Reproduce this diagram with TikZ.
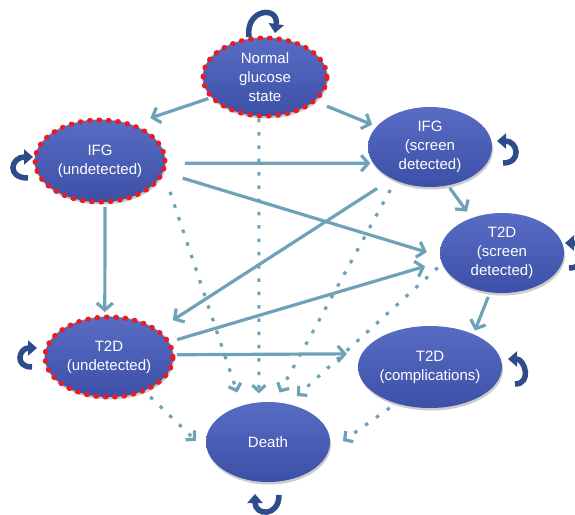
\documentclass[tikz,border=0pt]{standalone}
\usepackage{fontspec}
\newfontfamily\statefont{Liberation Sans}
\usetikzlibrary{arrows.meta,shapes,shadows}
\definecolor{statetop}{RGB}{88,108,196}
\definecolor{statebottom}{RGB}{60,80,168}
\definecolor{colorflow}{RGB}{110,162,182}
\definecolor{colorloop}{RGB}{46,76,140}
\definecolor{colorhidden}{RGB}{232,28,36}
\tikzstyle{state}=[ellipse, inner sep=0pt, outer sep=0pt, top color=statetop, bottom color=statebottom, drop shadow={shadow xshift=1pt, shadow yshift=-2.5pt, fill=black!40}, text=white, align=center, font=\statefont\fontsize{15}{19}\selectfont]
\tikzstyle{hidden}=[preaction={draw=gray!55, solid, line cap=butt, line width=1.6pt}, draw=colorhidden, line width=5pt, dash pattern=on 0.8pt off 8.6pt, line cap=round]
\tikzstyle{flow}=[draw=colorflow, line width=3.2pt]
\tikzstyle{exit}=[flow, dash pattern=on 3.5pt off 9.8pt, -{Straight Barb[length=6pt,width=13pt]}]
\tikzstyle{selfloop}=[draw=colorloop, line width=5.5pt, -{Triangle[length=9pt,width=15pt]}]

\begin{document}
\begin{tikzpicture}[x=1pt, y=1pt, ->, >={Straight Barb[length=7pt,width=16pt]}]
		\useasboundingbox (0,0) rectangle (575,-514);
		
		\node[state, hidden, minimum width=124pt, minimum height=78pt] at (265,-77) (norm) {Normal\\glucose\\state};
		
		\node[state, hidden, minimum width=130pt, minimum height=82pt] at (100,-161) (ifgu) {IFG\\(undetected)};
		
		\node[state, minimum width=124pt, minimum height=80pt] at (430,-147) (ifgs) {IFG\\(screen\\detected)};
		
		\node[state, minimum width=124pt, minimum height=80pt] at (502,-253) (t2ds) {T2D\\(screen\\detected)};
		
		\node[state, hidden, minimum width=128pt, minimum height=80pt] at (109,-357) (t2du) {T2D\\(undetected)};
		
		\node[state, minimum width=144pt, minimum height=82pt] at (430,-367) (t2dc) {T2D\\(complications)};
		
		\node[state, minimum width=124pt, minimum height=80pt] at (268,-442) (death) {Death};
		
		% progression
		\path (norm.201) edge[flow, shorten <=4pt, shorten >=21pt] (ifgu.50);
		\path (norm.-26) edge[flow, shorten <=14pt, shorten >=5pt] (ifgs.159);
		\path (ifgu.-2) edge[flow, shorten <=20pt, shorten >=3pt] (ifgs.196);
		\path (ifgu.-10) edge[flow, shorten <=21pt, shorten >=14pt] (t2ds.183);
		\path (ifgu.-83) edge[flow, shorten <=5pt, shorten >=5pt] (t2du.96);
		\path (ifgs.-65) edge[flow, shorten <=3pt, shorten >=8pt] (t2ds.131);
		\path (ifgs.220) edge[flow, shorten <=18pt, shorten >=19pt] (t2du.29);
		\path (t2du.14) edge[flow, shorten <=9pt, shorten >=17pt] (t2ds.188);
		\path (t2du.2) edge[flow, shorten <=4pt, shorten >=15pt] (t2dc.169);
		\path (t2ds.253) edge[flow, shorten <=5pt, shorten >=4pt] (t2dc.37);
		
		% mortality
		\path (norm.261) edge[exit, shorten <=3pt, shorten >=9pt] (death.103);
		\path (ifgu.-9) edge[exit, shorten <=22pt, shorten >=14pt] (death.126);
		\path (ifgs.224) edge[exit, shorten <=11pt, shorten >=11pt] (death.81);
		\path (t2ds.190) edge[exit, shorten <=6pt, shorten >=12pt] (death.62);
		\path (t2du.-44) edge[exit, shorten <=9pt, shorten >=17pt] (death.190);
		\path (t2dc.227) edge[exit, shorten <=8pt, shorten >=18pt] (death.-9);
		
		% staying in the same state
		\draw[selfloop] ([shift={(-16pt,1pt)}]norm.north) .. controls +(-4pt,28pt) and +(4pt,28pt) .. ([shift={(10pt,5pt)}]norm.north);
		\draw[selfloop] ([shift={(-7pt,-17pt)}]ifgu.west) .. controls +(-22pt,0pt) and +(-22pt,0pt) .. ([shift={(-2pt,4pt)}]ifgu.west);
		\draw[selfloop] ([shift={(11pt,-16pt)}]ifgs.east) .. controls +(19pt,0pt) and +(21pt,0pt) .. ([shift={(5pt,6pt)}]ifgs.east);
		\draw[selfloop] ([shift={(5pt,-15pt)}]t2ds.east) .. controls +(20pt,0pt) and +(22pt,0pt) .. ([shift={(1pt,10pt)}]t2ds.east);
		\draw[selfloop] ([shift={(-13pt,-10pt)}]t2du.west) .. controls +(-18pt,0pt) and +(-18pt,0pt) .. ([shift={(-8pt,9pt)}]t2du.west);
		\draw[selfloop] ([shift={(13pt,-17pt)}]t2dc.east) .. controls +(17pt,0pt) and +(17pt,0pt) .. ([shift={(6pt,8pt)}]t2dc.east);
		\draw[selfloop] ([shift={(11pt,-13pt)}]death.south) .. controls +(0pt,-22pt) and +(0pt,-22pt) .. ([shift={(-13pt,-12pt)}]death.south);
		
		\end{tikzpicture}
\end{document}
